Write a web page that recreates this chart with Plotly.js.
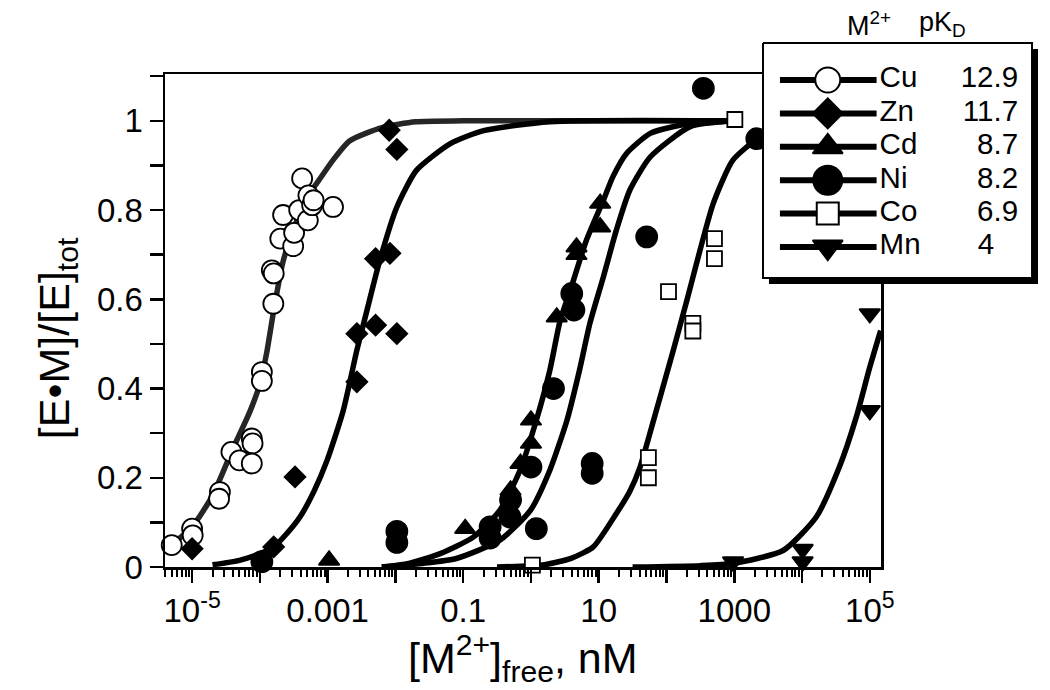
<!DOCTYPE html>
<html><head><meta charset="utf-8">
<script src="https://cdn.plot.ly/plotly-3.0.1.min.js"></script>
<style>html,body{margin:0;padding:0;background:#fff}#chart{width:1050px;height:690px}</style>
</head><body><div id="chart"></div>
<script>
// ---- legend content ----
const metals = ['Cu', 'Zn', 'Cd', 'Ni', 'Co', 'Mn'];
const pKD = ['12.9', '11.7', '8.7', '8.2', '6.9', '4'];

// ---- measured points ([M2+]free in nM, fraction bound) ----
const cuX = [5.0e-6, 1.0e-5, 1.02e-5, 2.57e-5, 2.5e-5, 3.8e-5, 5.0e-5, 7.6e-5, 7.8e-5, 7.6e-5, 1.07e-4, 1.07e-4, 1.58e-4, 1.5e-4, 1.6e-4, 2.0e-4, 2.2e-4, 3.1e-4, 3.2e-4, 3.8e-4, 4.2e-4, 5.1e-4, 5.2e-4, 5.9e-4, 6.2e-4, 1.2e-3];
const cuY = [0.049, 0.086, 0.071, 0.168, 0.153, 0.258, 0.239, 0.288, 0.277, 0.232, 0.437, 0.417, 0.59, 0.665, 0.658, 0.736, 0.789, 0.719, 0.749, 0.80, 0.871, 0.777, 0.833, 0.811, 0.822, 0.807];

const znX = [1.0e-5, 1.6e-4, 3.3e-4, 2.7e-3, 2.7e-3, 5.1e-3, 0.0105, 5.1e-3, 8.3e-3, 8.1e-3, 0.0105];
const znY = [0.041, 0.045, 0.202, 0.415, 0.523, 0.542, 0.523, 0.691, 0.703, 0.979, 0.936];

const cdX = [1.05e-3, 0.107, 0.45, 0.5, 0.7, 1.0, 1.0, 2.4, 4.7, 4.7, 10.5, 10.5];
const cdY = [0.015, 0.086, 0.13, 0.172, 0.232, 0.277, 0.329, 0.56, 0.70, 0.717, 0.762, 0.815];

const niX = [1.07e-4, 0.0105, 0.0105, 0.25, 0.25, 0.5, 0.49, 1.0, 1.2, 2.15, 4.0, 4.3, 8.0, 8.0, 51, 350, 2150];
const niY = [0.012, 0.08, 0.055, 0.09, 0.065, 0.15, 0.112, 0.224, 0.086, 0.40, 0.613, 0.576, 0.232, 0.21, 0.74, 1.073, 0.96];

const coX = [1.05, 54, 54, 107, 245, 245, 510, 510, 1020];
const coY = [0.004, 0.245, 0.20, 0.617, 0.546, 0.529, 0.736, 0.691, 1.003];

const mnX = [960, 10200, 10200, 1.0e5, 1.0e5];
const mnY = [0.012, 0.04, 0.012, 0.568, 0.351];

// ---- fitted curves ----
const cuFitX = [5.0e-6, 1.0e-5, 2.0e-5, 4.0e-5, 7.2e-5, 1.0e-4, 1.26e-4, 1.6e-4, 2.2e-4, 3.2e-4, 5.0e-4, 6.9e-4, 1.2e-3, 2.1e-3, 6.3e-3, 0.02, 0.1, 1000];
const cuFitY = [0.05, 0.09, 0.16, 0.265, 0.35, 0.41, 0.48, 0.575, 0.685, 0.76, 0.83, 0.86, 0.912, 0.955, 0.985, 0.998, 1.0, 1.0];

const znFitX = [2.0e-5, 5.0e-5, 1.0e-4, 1.6e-4, 2.5e-4, 3.9e-4, 6.3e-4, 9.8e-4, 1.7e-3, 2.7e-3, 3.8e-3, 5.9e-3, 0.0105, 0.0204, 0.0646, 0.2, 1.9, 1000];
const znFitY = [0.005, 0.015, 0.03, 0.045, 0.075, 0.112, 0.17, 0.239, 0.351, 0.486, 0.575, 0.688, 0.807, 0.889, 0.949, 0.978, 0.998, 1.0];

const cdFitX = [6.3e-3, 0.0158, 0.0457, 0.141, 0.347, 0.69, 1.2, 1.9, 2.7, 3.8, 6.6, 11.7, 16.2, 25.7, 57.5, 158, 1000];
const cdFitY = [0.0, 0.008, 0.03, 0.067, 0.127, 0.217, 0.329, 0.441, 0.553, 0.62, 0.733, 0.822, 0.875, 0.927, 0.972, 0.99, 1.0];

const niFitX = [6.3e-3, 0.025, 0.079, 0.347, 0.98, 1.9, 3.4, 5.2, 7.4, 11.7, 18.2, 28.8, 57.5, 224, 1000];
const niFitY = [0.0, 0.008, 0.019, 0.06, 0.127, 0.217, 0.329, 0.441, 0.546, 0.65, 0.755, 0.845, 0.919, 0.987, 1.0];

const coFitX = [0.316, 1.58, 4.0, 8.3, 18.2, 28.8, 40.7, 70.8, 126, 200, 490, 955, 2240, 6300, 31600];
const coFitY = [0.0, 0.005, 0.02, 0.045, 0.12, 0.17, 0.224, 0.351, 0.486, 0.598, 0.815, 0.912, 0.96, 0.985, 1.0];

const mnFitX = [31.6, 316, 955, 5250, 16200, 35500, 63100, 1.0e5, 144500];
const mnFitY = [0.0, 0.003, 0.008, 0.037, 0.112, 0.224, 0.336, 0.448, 0.53];

// ---- axis ticks and titles ----
const xTickVals = [1e-5, 1e-3, 1e-1, 10, 1000, 1e5];
const xTickText = ['10<sup>-5</sup>', '0.001', '0.1', '10', '1000', '10<sup>5</sup>'];
const xOddDecades = [1e-4, 1e-2, 1, 100, 1e4];
const yTickVals = [0, 0.2, 0.4, 0.6, 0.8, 1.0];
const yTickText = ['0', '0.2', '0.4', '0.6', '0.8', '1'];
const xTitle = '[M<sup>2+</sup>]<sub>free</sub>, nM';
const yTitle = '[E•M]/[E]<sub>tot</sub>';
const legendHeader = ['M<sup>2+</sup>', 'pK<sub>D</sub>'];

const xMinor = [];
for (let e = -6; e <= 5; e++) for (let m = 2; m <= 9; m++) xMinor.push(m * Math.pow(10, e));

// ---- styles ----
const FONT = 'Liberation Sans, Arial, Helvetica, sans-serif';
const fits = [
  {x: cuFitX, y: cuFitY, color: '#262626'},
  {x: znFitX, y: znFitY, color: '#000'},
  {x: cdFitX, y: cdFitY, color: '#000'},
  {x: niFitX, y: niFitY, color: '#000'},
  {x: coFitX, y: coFitY, color: '#000'},
  {x: mnFitX, y: mnFitY, color: '#000'}
];
const pts = [
  {x: cuX, y: cuY, symbol: 'circle', size: 20, fill: '#fff', legSize: 25},
  {x: znX, y: znY, symbol: 'diamond', size: 16, fill: '#000', legSize: 23},
  {x: cdX, y: cdY, symbol: 'triangle-up', size: 18, fill: '#000', legSize: 26},
  {x: niX, y: niY, symbol: 'circle', size: 21, fill: '#000', legSize: 29},
  {x: coX, y: coY, symbol: 'square', size: 15, fill: '#fff', legSize: 22},
  {x: mnX, y: mnY, symbol: 'triangle-down', size: 18, fill: '#000', legSize: 26}
];

// ---- page geometry (pixels) ----
const W = 1050, H = 690, ML = 165, MR = 10, MT = 20, MB = 123;
const PAPW = W - ML - MR, PAPH = H - MT - MB;
const plotRight = 881, plotTop = 74;
const px = v => (v - ML) / PAPW;
const py = v => (H - MB - v) / PAPH;
const LEG = {x0: 761, x1: 1041, y0: 41, y1: 286};   // legend panel axes, units = page pixels

const traces = [];
fits.forEach((f, i) => traces.push({
  type: 'scatter', mode: 'lines', x: f.x, y: f.y, name: metals[i] + ' fit',
  line: {color: f.color, width: 5.5, shape: 'spline', smoothing: 0.6},
  cliponaxis: false, showlegend: false, hoverinfo: 'skip'
}));
pts.forEach((p, i) => traces.push({
  type: 'scatter', mode: 'markers', x: p.x, y: p.y, name: metals[i] + ' ' + pKD[i],
  marker: {symbol: p.symbol, size: p.size, color: p.fill, line: {color: '#000', width: 1.8}},
  cliponaxis: false, showlegend: false
}));
// carrier for the overlay axis that holds the unlabeled decade ticks
traces.push({type: 'scatter', mode: 'markers', x: [], y: [], xaxis: 'x2', yaxis: 'y', showlegend: false, hoverinfo: 'skip'});

// ---- legend panel ----
const legAx = {xaxis: 'x3', yaxis: 'y3', showlegend: false, hoverinfo: 'skip', cliponaxis: false};
traces.push(Object.assign({type: 'scatter', mode: 'lines', name: 'legend shadow',
  x: [769, 1039, 1039, 769, 769], y: [49, 49, 284, 284, 49],
  fill: 'toself', fillcolor: '#000', line: {color: '#000', width: 0}}, legAx));
traces.push(Object.assign({type: 'scatter', mode: 'lines', name: 'legend box',
  x: [763, 1033, 1033, 763, 763], y: [43, 43, 278, 278, 43],
  fill: 'toself', fillcolor: '#fff', line: {color: '#000', width: 2}}, legAx));
const rowY = [80, 113.4, 146.8, 180.2, 213.6, 247];
metals.forEach((m, i) => {
  traces.push(Object.assign({type: 'scatter', mode: 'lines', name: m + ' key line',
    x: [780, 877], y: [rowY[i], rowY[i]], line: {color: '#000', width: 6}}, legAx));
  traces.push(Object.assign({type: 'scatter', mode: 'markers', name: m + ' key',
    x: [828], y: [rowY[i]],
    marker: {symbol: pts[i].symbol, size: pts[i].legSize, color: pts[i].fill, line: {color: '#000', width: 2}}}, legAx));
});
traces.push(Object.assign({type: 'scatter', mode: 'text', name: 'legend metals',
  x: metals.map(() => 880), y: rowY, text: metals, textposition: 'middle right',
  textfont: {family: FONT, size: 29.5, color: '#000'}}, legAx));
traces.push(Object.assign({type: 'scatter', mode: 'text', name: 'legend pKD',
  x: pKD.map(v => v.indexOf('.') >= 0 ? 1019 : 995), y: rowY, text: pKD, textposition: 'middle left',
  textfont: {family: FONT, size: 29.5, color: '#000'}}, legAx));

const axisCommon = {
  showline: true, linecolor: '#000', linewidth: 2.5,
  ticks: 'outside', ticklen: 13, tickwidth: 2.5, tickcolor: '#000',
  showgrid: false, zeroline: false,
  tickfont: {family: FONT, size: 33, color: '#000'}
};
const hiddenAxis = {visible: false, showgrid: false, zeroline: false, fixedrange: true};

const annotations = [
  {xref: 'paper', yref: 'paper', x: px((ML + plotRight) / 2), y: py(689), xanchor: 'center', yanchor: 'bottom',
   text: xTitle, showarrow: false, borderpad: 0, font: {family: FONT, size: 43, color: '#000'}},
  {xref: 'paper', yref: 'paper', x: px(869), y: py(24), xanchor: 'center', yanchor: 'middle',
   text: legendHeader[0], showarrow: false, font: {family: FONT, size: 27, color: '#000'}},
  {xref: 'paper', yref: 'paper', x: px(942), y: py(24), xanchor: 'center', yanchor: 'middle',
   text: legendHeader[1], showarrow: false, font: {family: FONT, size: 27, color: '#000'}}
];

const layout = {
  width: W, height: H,
  margin: {l: ML, r: MR, t: MT, b: MB, pad: 0},
  paper_bgcolor: '#fff', plot_bgcolor: 'rgba(0,0,0,0)',
  font: {family: FONT, color: '#000'},
  showlegend: false,
  xaxis: Object.assign({}, axisCommon, {
    type: 'log', range: [-5.4, 5.165], mirror: true, domain: [0, px(plotRight)], anchor: 'y',
    tickmode: 'array', tickvals: xTickVals, ticktext: xTickText,
    minor: {tickmode: 'array', tickvals: xMinor, ticks: 'outside', ticklen: 7, tickwidth: 2, tickcolor: '#000', showgrid: false}
  }),
  xaxis2: Object.assign({}, axisCommon, {
    type: 'log', range: [-5.4, 5.165], overlaying: 'x', anchor: 'y', side: 'bottom',
    tickmode: 'array', tickvals: xOddDecades, showticklabels: false
  }),
  yaxis: Object.assign({}, axisCommon, {
    range: [0, 1.105], mirror: true, domain: [0, py(plotTop)], anchor: 'x',
    tickmode: 'array', tickvals: yTickVals, ticktext: yTickText,
    minor: {tickmode: 'linear', tick0: 0, dtick: 0.1, ticks: 'outside', ticklen: 13, tickwidth: 2.5, tickcolor: '#000', showgrid: false},
    title: {text: yTitle + '&nbsp;&nbsp;&nbsp;', font: {family: FONT, size: 43, color: '#000'}, standoff: 14}
  }),
  xaxis3: Object.assign({}, hiddenAxis, {domain: [px(LEG.x0), px(LEG.x1)], range: [LEG.x0, LEG.x1], anchor: 'y3'}),
  yaxis3: Object.assign({}, hiddenAxis, {domain: [py(LEG.y1), py(LEG.y0)], range: [LEG.y1, LEG.y0], anchor: 'x3'}),
  annotations: annotations
};

Plotly.newPlot('chart', traces, layout, {displayModeBar: false, staticPlot: true});
</script>
</body></html>
